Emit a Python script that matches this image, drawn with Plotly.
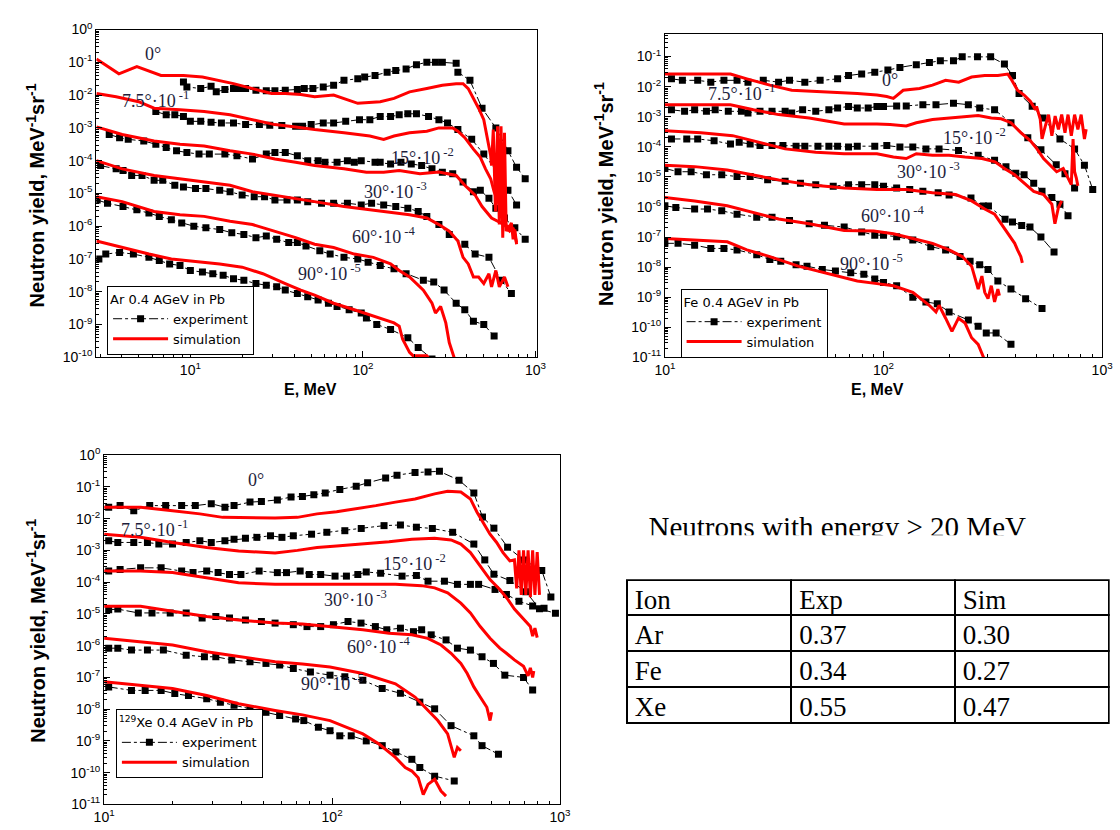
import plotly.graph_objects as go

# ---------------- DATA (pairs of log10(E/MeV), log10(yield)) ----------------
# Ar 0.4 AGeV in Pb
ar_exp0 = [(0.96,-1.60),(0.98,-1.75),(1.06,-1.80),(1.12,-1.73),(1.15,-1.90),(1.20,-1.83),(1.25,-1.80),(1.29,-1.80),(1.32,-1.80),(1.38,-1.85),(1.44,-1.87),(1.49,-1.87),(1.55,-1.85),(1.62,-1.83),(1.66,-1.80),(1.71,-1.80),(1.77,-1.75),(1.83,-1.70),(1.89,-1.55),(1.97,-1.50),(2.01,-1.45),(2.07,-1.40),(2.14,-1.30),(2.19,-1.25),(2.25,-1.20),(2.31,-1.07),(2.37,-1.00),(2.42,-1.00),(2.46,-1.00),(2.54,-1.03),(2.55,-1.30),(2.62,-1.55),(2.69,-2.40),(2.77,-3.00),(2.84,-3.70),(2.89,-4.20),(2.94,-4.55)]
ar_exp7 = [(0.80,-2.50),(0.86,-2.60),(0.91,-2.60),(0.96,-2.65),(1.00,-2.80),(1.06,-2.80),(1.12,-2.83),(1.18,-2.85),(1.25,-2.85),(1.32,-2.90),(1.40,-2.90),(1.46,-2.92),(1.53,-2.93),(1.61,-2.95),(1.65,-2.95),(1.70,-2.90),(1.77,-2.85),(1.83,-2.85),(1.90,-2.80),(1.98,-2.75),(2.04,-2.75),(2.10,-2.65),(2.16,-2.65),(2.21,-2.60),(2.26,-2.57),(2.31,-2.57),(2.38,-2.65),(2.44,-2.75),(2.49,-2.85),(2.55,-3.05),(2.63,-3.35),(2.70,-3.80),(2.78,-4.35),(2.84,-4.90),(2.89,-5.35)]
ar_exp15 = [(0.53,-3.20),(0.59,-3.30),(0.64,-3.35),(0.73,-3.40),(0.80,-3.50),(0.86,-3.60),(0.92,-3.70),(0.98,-3.75),(1.05,-3.80),(1.11,-3.80),(1.20,-3.80),(1.27,-3.85),(1.36,-3.95),(1.44,-3.80),(1.49,-3.75),(1.55,-3.75),(1.62,-3.85),(1.68,-4.00),(1.74,-4.00),(1.78,-4.05),(1.85,-4.05),(1.91,-4.00),(1.95,-4.05),(1.99,-4.00),(2.07,-4.05),(2.10,-4.05),(2.16,-4.10),(2.22,-4.05),(2.28,-4.10),(2.34,-4.15),(2.40,-4.25),(2.46,-4.35),(2.52,-4.40),(2.58,-4.65),(2.64,-4.95),(2.68,-4.90),(2.73,-5.15),(2.77,-5.45),(2.82,-5.75),(2.88,-6.05),(2.94,-6.40)]
ar_exp30 = [(0.48,-4.15),(0.57,-4.25),(0.61,-4.30),(0.66,-4.45),(0.72,-4.45),(0.79,-4.60),(0.84,-4.60),(0.91,-4.75),(0.96,-4.80),(1.03,-4.85),(1.09,-4.85),(1.17,-4.90),(1.23,-4.95),(1.30,-5.05),(1.37,-5.10),(1.43,-5.10),(1.49,-5.20),(1.56,-5.20),(1.62,-5.20),(1.68,-5.25),(1.76,-5.30),(1.83,-5.30),(1.91,-5.30),(1.99,-5.35),(2.05,-5.30),(2.12,-5.35),(2.19,-5.40),(2.26,-5.45),(2.32,-5.55),(2.37,-5.70),(2.44,-5.95),(2.50,-6.25),(2.59,-6.55),(2.65,-6.85),(2.73,-6.95),(2.80,-7.65),(2.86,-8.05)]
ar_exp60 = [(0.46,-5.20),(0.52,-5.30),(0.61,-5.40),(0.69,-5.50),(0.76,-5.60),(0.82,-5.70),(0.89,-5.80),(0.95,-5.90),(1.02,-6.00),(1.09,-6.05),(1.17,-6.10),(1.24,-6.20),(1.31,-6.25),(1.38,-6.35),(1.44,-6.30),(1.50,-6.40),(1.57,-6.50),(1.62,-6.50),(1.67,-6.60),(1.75,-6.75),(1.81,-6.85),(1.89,-6.95),(1.97,-7.00),(2.03,-7.10),(2.10,-7.20),(2.18,-7.30),(2.25,-7.45),(2.35,-7.65),(2.41,-7.70),(2.47,-7.95),(2.54,-8.35),(2.59,-8.55),(2.64,-8.90),(2.70,-9.00),(2.76,-9.35)]
ar_exp90 = [(0.47,-7.00),(0.51,-6.85),(0.59,-6.80),(0.67,-6.85),(0.76,-6.95),(0.82,-7.05),(0.88,-7.15),(0.94,-7.20),(1.00,-7.35),(1.07,-7.40),(1.13,-7.45),(1.19,-7.50),(1.25,-7.60),(1.31,-7.65),(1.38,-7.75),(1.44,-7.80),(1.50,-7.85),(1.55,-7.95),(1.62,-8.05),(1.68,-8.15),(1.74,-8.25),(1.80,-8.35),(1.85,-8.45),(1.92,-8.55),(1.99,-8.65),(2.02,-8.80),(2.08,-9.00),(2.16,-9.15),(2.26,-9.40),(2.32,-9.70),(2.40,-10.05)]

ar_sim0 = [(0.456,-0.90),(0.586,-1.35),(0.69,-1.13),(0.83,-1.40),(0.96,-1.40),(1.07,-1.45),(1.25,-1.65),(1.36,-1.80),(1.47,-1.95),(1.55,-1.95),(1.64,-1.98),(1.72,-2.05),(1.83,-2.00),(1.97,-2.25),(2.10,-2.20),(2.18,-2.10),(2.27,-1.90),(2.37,-1.80),(2.46,-1.70),(2.54,-1.65),(2.58,-1.65),(2.61,-1.80),(2.64,-2.10),(2.67,-2.40),(2.70,-2.75),(2.72,-3.25),(2.74,-3.85),(2.745,-4.15),(2.755,-3.05),(2.768,-5.55),(2.78,-2.95),(2.79,-5.95),(2.80,-2.95),(2.81,-6.35),(2.82,-3.15),(2.83,-6.15),(2.84,-5.95)]
ar_sim7 = [(0.456,-1.95),(0.57,-2.05),(0.70,-2.20),(0.79,-2.40),(0.94,-2.45),(1.08,-2.50),(1.23,-2.60),(1.36,-2.75),(1.49,-2.90),(1.61,-2.97),(1.72,-3.05),(1.89,-3.15),(2.04,-3.25),(2.12,-3.35),(2.18,-3.25),(2.27,-3.15),(2.37,-3.10),(2.44,-3.00),(2.52,-3.00),(2.55,-3.10),(2.59,-3.30),(2.64,-3.65),(2.68,-3.90),(2.71,-4.25),(2.74,-4.55),(2.76,-4.95),(2.79,-5.35),(2.82,-5.85),(2.84,-6.15),(2.86,-5.90),(2.87,-6.40),(2.88,-6.10),(2.89,-6.55)]
ar_sim15 = [(0.456,-2.97),(0.605,-3.20),(0.79,-3.40),(0.94,-3.50),(1.08,-3.55),(1.23,-3.70),(1.36,-3.80),(1.49,-3.95),(1.61,-4.05),(1.72,-4.15),(1.89,-4.25),(2.02,-4.35),(2.12,-4.35),(2.21,-4.30),(2.33,-4.40),(2.44,-4.35),(2.54,-4.45),(2.59,-4.75),(2.65,-5.05),(2.69,-5.40),(2.745,-5.75),(2.78,-5.85),(2.82,-5.95),(2.85,-6.15),(2.87,-6.05),(2.89,-6.50)]
ar_sim30 = [(0.456,-4.00),(0.605,-4.25),(0.79,-4.45),(0.94,-4.55),(1.08,-4.65),(1.23,-4.75),(1.36,-4.95),(1.49,-5.05),(1.61,-5.15),(1.72,-5.25),(1.89,-5.40),(2.04,-5.50),(2.18,-5.60),(2.27,-5.65),(2.37,-5.75),(2.44,-5.95),(2.50,-6.15),(2.55,-6.45),(2.58,-6.95),(2.61,-7.15),(2.64,-7.55),(2.67,-7.55),(2.70,-7.75),(2.73,-7.45),(2.745,-7.85),(2.77,-7.35),(2.79,-7.85),(2.82,-7.55),(2.84,-7.85)]
ar_sim60 = [(0.456,-5.10),(0.605,-5.25),(0.79,-5.55),(0.94,-5.65),(1.08,-5.70),(1.23,-5.85),(1.36,-5.95),(1.49,-6.15),(1.61,-6.35),(1.72,-6.55),(1.83,-6.65),(1.95,-6.85),(2.06,-6.95),(2.16,-7.15),(2.21,-7.35),(2.27,-7.55),(2.35,-7.95),(2.40,-8.35),(2.42,-8.65),(2.45,-8.45),(2.48,-8.95),(2.50,-9.55),(2.54,-10.20)]
ar_sim90 = [(0.456,-6.45),(0.605,-6.65),(0.76,-6.85),(0.89,-7.00),(0.98,-7.05),(1.17,-7.15),(1.30,-7.25),(1.42,-7.45),(1.55,-7.75),(1.64,-7.95),(1.72,-8.10),(1.83,-8.35),(1.95,-8.55),(2.06,-8.75),(2.18,-8.95),(2.21,-9.05),(2.23,-9.45),(2.27,-9.85),(2.29,-9.95),(2.37,-9.95),(2.39,-10.10)]

# Fe 0.4 AGeV in Pb
fe_exp0 = [(1.03,-1.74),(1.08,-1.79),(1.15,-1.79),(1.21,-1.85),(1.27,-1.79),(1.33,-1.79),(1.38,-1.85),(1.45,-1.79),(1.52,-1.85),(1.57,-1.79),(1.64,-1.85),(1.71,-1.79),(1.79,-1.74),(1.84,-1.63),(1.90,-1.58),(1.96,-1.52),(2.02,-1.45),(2.075,-1.36),(2.15,-1.27),(2.21,-1.20),(2.26,-1.14),(2.32,-1.14),(2.36,-1.01),(2.43,-1.01),(2.49,-1.01),(2.553,-1.25),(2.59,-1.63),(2.62,-2.23),(2.68,-2.65),(2.73,-3.04),(2.807,-3.74),(2.874,-4.07),(2.919,-4.61),(2.957,-5.42)]
fe_exp7 = [(1.03,-2.77),(1.09,-2.82),(1.136,-2.77),(1.19,-2.82),(1.23,-2.77),(1.29,-2.82),(1.35,-2.82),(1.38,-2.88),(1.435,-2.82),(1.49,-2.82),(1.55,-2.82),(1.58,-2.88),(1.63,-2.77),(1.69,-2.82),(1.75,-2.77),(1.79,-2.71),(1.84,-2.66),(1.88,-2.71),(1.93,-2.71),(1.97,-2.66),(2.00,-2.66),(2.06,-2.64),(2.104,-2.64),(2.18,-2.60),(2.24,-2.60),(2.32,-2.55),(2.388,-2.60),(2.44,-2.71),(2.508,-2.77),(2.583,-3.20),(2.66,-3.70),(2.72,-4.10),(2.79,-4.60),(2.83,-4.90),(2.874,-5.37)]
fe_exp15 = [(1.03,-3.74),(1.10,-3.74),(1.15,-3.74),(1.225,-3.80),(1.30,-3.91),(1.34,-3.85),(1.39,-3.91),(1.435,-3.96),(1.49,-3.96),(1.54,-3.96),(1.60,-3.98),(1.64,-3.98),(1.70,-3.98),(1.75,-3.98),(1.79,-3.98),(1.84,-4.01),(1.88,-3.98),(1.96,-3.98),(2.015,-3.96),(2.075,-4.01),(2.134,-4.01),(2.194,-4.07),(2.254,-4.07),(2.343,-4.12),(2.433,-4.28),(2.508,-4.45),(2.56,-4.66),(2.605,-4.88),(2.643,-4.93),(2.687,-5.21),(2.725,-5.48),(2.77,-5.69),(2.807,-5.91),(2.844,-6.29)]
fe_exp30 = [(1.00,-4.72),(1.06,-4.83),(1.12,-4.83),(1.19,-4.93),(1.26,-4.93),(1.33,-4.99),(1.39,-4.99),(1.47,-5.10),(1.55,-5.15),(1.62,-5.21),(1.69,-5.26),(1.77,-5.31),(1.84,-5.26),(1.90,-5.26),(1.96,-5.26),(2.00,-5.31),(2.06,-5.37),(2.12,-5.42),(2.18,-5.48),(2.25,-5.53),(2.30,-5.60),(2.40,-5.70),(2.457,-5.97),(2.48,-5.97),(2.556,-6.41),(2.59,-6.50),(2.632,-6.62),(2.67,-6.67),(2.72,-7.00),(2.78,-7.50)]
fe_exp60 = [(1.00,-5.96),(1.05,-6.02),(1.136,-6.07),(1.195,-6.07),(1.26,-6.13),(1.33,-6.24),(1.42,-6.34),(1.49,-6.34),(1.57,-6.45),(1.66,-6.56),(1.73,-6.61),(1.82,-6.67),(1.90,-6.83),(1.96,-6.94),(2.00,-6.94),(2.06,-6.99),(2.134,-7.10),(2.216,-7.32),(2.284,-7.43),(2.35,-7.65),(2.396,-7.81),(2.44,-7.92),(2.478,-8.08),(2.523,-8.46),(2.583,-8.73),(2.65,-9.05),(2.725,-9.38)]
fe_exp90 = [(1.00,-7.21),(1.06,-7.21),(1.136,-7.27),(1.21,-7.38),(1.27,-7.38),(1.33,-7.43),(1.42,-7.59),(1.48,-7.75),(1.53,-7.81),(1.60,-7.92),(1.65,-7.97),(1.72,-8.08),(1.78,-8.13),(1.85,-8.19),(1.91,-8.24),(1.96,-8.40),(2.00,-8.51),(2.06,-8.62),(2.134,-9.00),(2.194,-9.16),(2.246,-9.22),(2.30,-9.49),(2.388,-9.76),(2.433,-9.97),(2.47,-10.19),(2.515,-10.19),(2.583,-10.57)]

fe_sim0 = [(1.00,-1.58),(1.30,-1.58),(1.375,-1.74),(1.48,-1.95),(1.58,-2.12),(1.73,-2.17),(1.88,-2.23),(1.97,-2.28),(2.015,-2.33),(2.045,-2.39),(2.09,-2.12),(2.165,-2.06),(2.224,-1.95),(2.284,-1.79),(2.344,-1.85),(2.403,-1.68),(2.463,-1.63),(2.523,-1.63),(2.568,-1.58),(2.583,-1.74),(2.613,-2.12),(2.643,-2.28),(2.672,-2.49),(2.695,-2.77),(2.70,-2.66),(2.717,-3.09),(2.725,-3.74),(2.74,-3.31),(2.755,-2.93),(2.77,-3.63),(2.785,-2.98),(2.80,-3.42),(2.815,-2.93),(2.83,-3.53),(2.844,-2.93),(2.859,-3.63),(2.874,-2.93),(2.889,-3.42),(2.904,-2.93),(2.919,-3.74),(2.927,-3.42)]
fe_sim7 = [(1.00,-2.60),(1.30,-2.60),(1.405,-2.77),(1.52,-2.93),(1.66,-3.04),(1.82,-3.24),(1.97,-3.24),(2.03,-3.26),(2.104,-3.31),(2.15,-3.20),(2.224,-3.09),(2.30,-3.04),(2.373,-3.00),(2.433,-2.96),(2.493,-3.04),(2.538,-3.07),(2.583,-3.20),(2.628,-3.53),(2.672,-3.80),(2.702,-4.07),(2.732,-4.39),(2.762,-4.61),(2.792,-4.83),(2.822,-4.72),(2.844,-5.04),(2.859,-5.26),(2.867,-3.74),(2.874,-4.83),(2.882,-5.04),(2.889,-5.30)]
fe_sim15 = [(1.00,-3.47),(1.165,-3.53),(1.31,-3.63),(1.435,-3.85),(1.55,-4.07),(1.69,-4.18),(1.82,-4.23),(1.97,-4.23),(2.045,-4.34),(2.104,-4.39),(2.15,-4.23),(2.224,-4.28),(2.30,-4.28),(2.373,-4.34),(2.45,-4.39),(2.51,-4.50),(2.553,-4.72),(2.60,-4.93),(2.643,-5.21),(2.687,-5.48),(2.732,-5.59),(2.77,-5.91),(2.784,-6.56),(2.80,-6.02),(2.815,-5.80)]
fe_sim30 = [(1.00,-4.61),(1.136,-4.66),(1.285,-4.77),(1.405,-4.93),(1.52,-5.10),(1.66,-5.26),(1.82,-5.37),(1.97,-5.42),(2.104,-5.42),(2.224,-5.53),(2.33,-5.59),(2.403,-5.80),(2.463,-6.07),(2.508,-6.24),(2.538,-6.56),(2.568,-6.89),(2.60,-7.21),(2.613,-7.43),(2.628,-7.65),(2.635,-7.86)]
fe_sim60 = [(1.00,-5.69),(1.136,-5.80),(1.285,-5.96),(1.405,-6.18),(1.52,-6.40),(1.66,-6.56),(1.82,-6.78),(1.955,-6.80),(2.045,-6.89),(2.134,-7.05),(2.224,-7.21),(2.30,-7.43),(2.36,-7.65),(2.403,-7.97),(2.418,-8.40),(2.433,-8.73),(2.45,-8.30),(2.463,-8.84),(2.478,-9.05),(2.493,-8.62),(2.508,-9.16),(2.523,-8.73),(2.53,-8.95)]
fe_sim90 = [(1.00,-7.05),(1.285,-7.16),(1.375,-7.43),(1.48,-7.65),(1.61,-7.97),(1.73,-8.19),(1.88,-8.46),(1.97,-8.55),(2.045,-8.62),(2.134,-8.84),(2.209,-9.27),(2.24,-9.49),(2.254,-9.27),(2.284,-9.70),(2.313,-10.14),(2.343,-9.70),(2.373,-9.86),(2.403,-10.35),(2.433,-10.57),(2.463,-11.10)]

# 129Xe 0.4 AGeV in Pb
xe_exp0 = [(1.02,-1.64),(1.07,-1.59),(1.13,-1.75),(1.20,-1.59),(1.27,-1.59),(1.34,-1.59),(1.40,-1.59),(1.47,-1.53),(1.53,-1.64),(1.57,-1.59),(1.64,-1.48),(1.69,-1.46),(1.76,-1.41),(1.82,-1.32),(1.87,-1.30),(1.92,-1.25),(1.97,-1.19),(2.034,-1.08),(2.106,-0.98),(2.156,-0.87),(2.235,-0.72),(2.285,-0.63),(2.364,-0.55),(2.421,-0.53),(2.471,-0.51),(2.557,-0.79),(2.622,-1.19),(2.66,-1.95),(2.71,-2.30),(2.77,-2.90),(2.84,-3.30),(2.92,-3.63),(2.96,-4.47)]
xe_exp7 = [(1.02,-2.70),(1.06,-2.75),(1.13,-2.75),(1.19,-2.75),(1.24,-2.80),(1.30,-2.80),(1.36,-2.75),(1.42,-2.70),(1.47,-2.75),(1.53,-2.70),(1.57,-2.65),(1.62,-2.62),(1.67,-2.59),(1.73,-2.54),(1.78,-2.59),(1.83,-2.54),(1.91,-2.49),(1.977,-2.43),(2.056,-2.38),(2.128,-2.31),(2.228,-2.22),(2.30,-2.20),(2.37,-2.27),(2.44,-2.31),(2.529,-2.43),(2.622,-2.80),(2.67,-3.30),(2.71,-3.75),(2.78,-3.95),(2.85,-4.30),(2.91,-4.84),(2.98,-4.98)]
xe_exp15 = [(1.02,-3.65),(1.07,-3.60),(1.16,-3.55),(1.25,-3.55),(1.34,-3.65),(1.39,-3.70),(1.45,-3.65),(1.50,-3.70),(1.55,-3.76),(1.60,-3.76),(1.68,-3.65),(1.76,-3.70),(1.80,-3.70),(1.86,-3.65),(1.90,-3.76),(1.95,-3.76),(2.013,-3.81),(2.063,-3.81),(2.113,-3.76),(2.15,-3.68),(2.213,-3.72),(2.307,-3.81),(2.37,-3.79),(2.421,-3.97),(2.493,-3.97),(2.55,-4.07),(2.607,-4.07),(2.643,-4.07),(2.715,-4.23),(2.765,-4.39),(2.82,-4.60),(2.88,-4.75),(2.93,-4.82)]
xe_exp30 = [(1.02,-4.87),(1.06,-4.85),(1.15,-4.97),(1.21,-4.97),(1.29,-4.97),(1.36,-4.97),(1.43,-5.13),(1.49,-5.08),(1.55,-5.13),(1.62,-5.19),(1.69,-5.24),(1.75,-5.29),(1.83,-5.34),(1.89,-5.40),(1.95,-5.40),(2.006,-5.34),(2.07,-5.24),(2.127,-5.29),(2.19,-5.40),(2.24,-5.50),(2.30,-5.45),(2.357,-5.56),(2.393,-5.50),(2.435,-5.66),(2.50,-5.82),(2.55,-6.08),(2.607,-6.14),(2.658,-6.35),(2.708,-6.56),(2.758,-6.93),(2.84,-7.00),(2.88,-7.40)]
xe_exp60 = [(1.02,-6.08),(1.06,-6.08),(1.12,-6.14),(1.19,-6.14),(1.26,-6.14),(1.36,-6.30),(1.44,-6.35),(1.49,-6.35),(1.56,-6.45),(1.64,-6.51),(1.71,-6.56),(1.77,-6.61),(1.83,-6.72),(1.905,-6.83),(1.991,-6.93),(2.056,-6.98),(2.135,-7.09),(2.22,-7.35),(2.30,-7.50),(2.385,-7.78),(2.45,-7.99),(2.522,-8.52),(2.622,-8.84),(2.658,-9.15),(2.73,-9.42)]
xe_exp90 = [(1.02,-7.30),(1.12,-7.41),(1.18,-7.41),(1.25,-7.41),(1.31,-7.51),(1.37,-7.57),(1.45,-7.67),(1.51,-7.78),(1.57,-7.88),(1.64,-7.99),(1.71,-8.10),(1.77,-8.20),(1.84,-8.31),(1.876,-8.36),(1.94,-8.57),(1.991,-8.68),(2.034,-8.84),(2.084,-8.84),(2.15,-9.00),(2.22,-9.15),(2.28,-9.35),(2.35,-9.58),(2.385,-9.84),(2.45,-10.11),(2.536,-10.26)]

xe_sim0 = [(1.00,-1.64),(1.16,-1.64),(1.30,-1.75),(1.42,-1.85),(1.52,-1.96),(1.63,-1.98),(1.75,-1.98),(1.848,-1.96),(1.934,-1.85),(2.02,-1.78),(2.106,-1.69),(2.192,-1.59),(2.278,-1.48),(2.364,-1.38),(2.45,-1.22),(2.507,-1.14),(2.565,-1.16),(2.607,-1.38),(2.636,-1.80),(2.665,-2.17),(2.693,-2.49),(2.722,-2.75),(2.75,-3.07),(2.78,-3.33),(2.80,-3.30),(2.81,-4.20),(2.82,-3.00),(2.83,-4.40),(2.84,-3.00),(2.85,-4.40),(2.86,-3.00),(2.87,-4.47),(2.88,-3.00),(2.89,-4.40),(2.90,-3.05),(2.91,-4.40)]
xe_sim7 = [(1.00,-2.49),(1.16,-2.59),(1.30,-2.75),(1.45,-2.91),(1.59,-3.02),(1.75,-3.08),(1.848,-3.00),(1.934,-2.91),(2.02,-2.86),(2.135,-2.80),(2.25,-2.73),(2.35,-2.65),(2.45,-2.62),(2.522,-2.67),(2.565,-2.80),(2.607,-3.07),(2.65,-3.49),(2.693,-3.92),(2.736,-4.23),(2.772,-4.55),(2.80,-4.85),(2.84,-5.15),(2.87,-5.40),(2.88,-5.70),(2.89,-5.45),(2.90,-5.75)]
xe_sim15 = [(1.00,-3.65),(1.16,-3.65),(1.30,-3.70),(1.45,-3.86),(1.59,-4.02),(1.75,-4.07),(1.991,-4.07),(2.135,-4.07),(2.278,-4.07),(2.393,-4.11),(2.45,-4.18),(2.507,-4.34),(2.565,-4.66),(2.607,-4.97),(2.65,-5.40),(2.693,-5.77),(2.736,-6.08),(2.765,-6.24),(2.80,-6.45),(2.84,-6.65),(2.86,-6.95),(2.87,-6.70),(2.88,-7.00),(2.885,-6.80)]
xe_sim30 = [(1.00,-4.76),(1.16,-4.76),(1.30,-4.92),(1.45,-5.08),(1.59,-5.19),(1.75,-5.29),(1.87,-5.32),(1.991,-5.40),(2.135,-5.50),(2.25,-5.61),(2.35,-5.66),(2.42,-5.77),(2.478,-5.98),(2.522,-6.24),(2.565,-6.56),(2.593,-6.88),(2.622,-7.30),(2.65,-7.62),(2.679,-7.94),(2.693,-8.36),(2.70,-8.10)]
xe_sim60 = [(1.00,-5.77),(1.16,-5.87),(1.30,-5.98),(1.45,-6.19),(1.59,-6.35),(1.75,-6.51),(1.87,-6.58),(1.991,-6.67),(2.135,-6.88),(2.278,-7.20),(2.364,-7.62),(2.421,-8.04),(2.464,-8.36),(2.507,-8.78),(2.522,-9.21),(2.536,-9.52),(2.55,-9.21),(2.565,-9.31)]
xe_sim90 = [(1.00,-7.14),(1.16,-7.25),(1.30,-7.35),(1.45,-7.57),(1.59,-7.83),(1.75,-8.04),(1.87,-8.18),(1.991,-8.36),(2.135,-8.78),(2.206,-9.10),(2.278,-9.52),(2.321,-9.84),(2.35,-9.95),(2.378,-10.16),(2.40,-10.69),(2.421,-10.37),(2.45,-10.21),(2.478,-10.58),(2.50,-10.74)]

angle_labels = ["0°", "7.5°·10<sup> -1</sup>", "15°·10<sup> -2</sup>", "30°·10<sup> -3</sup>",
                "60°·10<sup> -4</sup>", "90°·10<sup> -5</sup>"]
legend_titles = ["Ar 0.4 AGeV in Pb", "Fe 0.4 AGeV in Pb", "<sup>129</sup>Xe 0.4 AGeV in Pb"]

table_ions = ["Ar", "Fe", "Xe"]
table_exp = [0.37, 0.34, 0.55]
table_sim = [0.30, 0.27, 0.47]
table_header = ["Ion", "Exp", "Sim"]
table_note = "Neutrons with energy > 20 MeV"

# ---------------- FIGURE ----------------
W, H = 1120, 830
def px(x):
    return x / W
def py(y):
    return 1 - y / H

def unzip(pairs):
    return [10 ** a for a, b in pairs], [10 ** b for a, b in pairs]

SANS = "Liberation Sans, Arial, sans-serif"
WIDE = "DejaVu Sans, Verdana, sans-serif"
SERIF = "Liberation Serif, Times New Roman, serif"

fig = go.Figure()

panels = [
    ("x", "y", "legend", [ar_exp0, ar_exp7, ar_exp15, ar_exp30, ar_exp60, ar_exp90],
     [ar_sim0, ar_sim7, ar_sim15, ar_sim30, ar_sim60, ar_sim90]),
    ("x2", "y2", "legend2", [fe_exp0, fe_exp7, fe_exp15, fe_exp30, fe_exp60, fe_exp90],
     [fe_sim0, fe_sim7, fe_sim15, fe_sim30, fe_sim60, fe_sim90]),
    ("x3", "y3", "legend3", [xe_exp0, xe_exp7, xe_exp15, xe_exp30, xe_exp60, xe_exp90],
     [xe_sim0, xe_sim7, xe_sim15, xe_sim30, xe_sim60, xe_sim90]),
]
for xa, ya, leg, exps, sims in panels:
    for i, e in enumerate(exps):
        ex, ey = unzip(e)
        fig.add_trace(go.Scatter(
            x=ex, y=ey, xaxis=xa, yaxis=ya, mode="lines+markers", name="experiment",
            line=dict(color="black", width=1, dash="dashdot"),
            marker=dict(symbol="square", size=7, color="black"),
            legend=leg, showlegend=(i == 0), legendrank=1))
    for i, s in enumerate(sims):
        sx, sy = unzip(s)
        fig.add_trace(go.Scatter(
            x=sx, y=sy, xaxis=xa, yaxis=ya, mode="lines", name="simulation",
            line=dict(color="#ff0000", width=3),
            legend=leg, showlegend=(i == 0), legendrank=2))

# clipped caption text
fig.add_trace(go.Scatter(
    x=[0.068], y=[0.09], xaxis="x4", yaxis="y4", mode="text", text=[table_note],
    textposition="middle right", textfont=dict(family=SERIF, size=29, color="black"),
    showlegend=False, cliponaxis=True, hoverinfo="skip"))

# table
fig.add_trace(go.Table(
    domain=dict(x=[px(628), 1.0], y=[py(800), py(583)]),
    columnwidth=[168, 167, 157],
    header=dict(values=table_header, height=35, align="left",
                line=dict(color="black", width=2), fill=dict(color="white"),
                font=dict(family=SERIF, size=27, color="black")),
    cells=dict(values=[table_ions, table_exp, table_sim], format=["", ".2f", ".2f"],
               height=36, align="left",
               line=dict(color="black", width=2), fill=dict(color="white"),
               font=dict(family=SERIF, size=27, color="black"))))

def ylabels(lo, hi):
    vals = [10.0 ** k for k in range(hi, lo - 1, -1)]
    txt = ["10<sup>%d</sup>" % k if k >= 0 else "10<sup>-%d</sup>" % (-k) for k in range(hi, lo - 1, -1)]
    return vals, txt

def axis(domain, rng, anchor, tv, tt):
    return dict(type="log", domain=domain, range=rng, anchor=anchor,
                showline=True, mirror=True, linecolor="black", linewidth=1,
                ticks="inside", ticklen=6, tickcolor="black", tickwidth=1,
                tickmode="array", tickvals=tv, ticktext=tt,
                minor=dict(ticks="inside", ticklen=3, tickcolor="black", dtick="D1", showgrid=False),
                showgrid=False, zeroline=False,
                tickfont=dict(family=SANS, size=14, color="black"))

xt_v, xt_t = [10, 100, 1000], ["10<sup>1</sup>", "10<sup>2</sup>", "10<sup>3</sup>"]

ar_dom_x, ar_dom_y = [px(87), px(537)], [py(355), py(20)]
fe_dom_x, fe_dom_y = [px(667), px(1113)], [py(355), py(25)]
xe_dom_x, xe_dom_y = [px(95), px(560)], [py(812), py(455)]

fig.update_layout(
    width=W, height=H, margin=dict(l=0, r=0, t=0, b=0),
    paper_bgcolor="white", plot_bgcolor="white",
    xaxis=axis(ar_dom_x, [0.455, 3.011], "y", xt_v, xt_t),
    yaxis=axis(ar_dom_y, [-10, 0], "x", *ylabels(-10, 0)),
    xaxis2=axis(fe_dom_x, [1, 3], "y2", xt_v, xt_t),
    yaxis2=axis(fe_dom_y, [-11, -0.265], "x2", *ylabels(-11, -1)),
    xaxis3=axis(xe_dom_x, [1, 3], "y3", xt_v, xt_t),
    yaxis3=axis(xe_dom_y, [-11, 0], "x3", *ylabels(-11, 0)),
    xaxis4=dict(domain=[0.55, 1.0], range=[0, 1], visible=False, anchor="y4", fixedrange=True),
    yaxis4=dict(domain=[py(537), py(470)], range=[0, 1], visible=False, anchor="x4", fixedrange=True),
)

leg_common = dict(xanchor="left", yanchor="top", bgcolor="white", bordercolor="black", borderwidth=1,
                  font=dict(family=WIDE, size=13, color="black"), tracegroupgap=0, itemwidth=55,
                  traceorder="normal")
fig.update_layout(
    legend=dict(x=px(98), y=py(282), title=dict(text=legend_titles[0], font=dict(family=WIDE, size=13)), **leg_common),
    legend2=dict(x=px(683), y=py(285), title=dict(text=legend_titles[1], font=dict(family=WIDE, size=13)), **leg_common),
    legend3=dict(x=px(107), y=py(715), title=dict(text=legend_titles[2], font=dict(family=WIDE, size=13)), **leg_common),
)

annotations = []
label_pos = {
    "ar": [(145, 45), (147, 91), (420, 150), (392, 185), (380, 231), (325, 268)],
    "fe": [(897, 72), (745, 84), (983, 129), (936, 164), (900, 209), (878, 258)],
    "xe": [(250, 480), (146, 530), (412, 565), (351, 602), (375, 650), (328, 687)],
}
for key in ["ar", "fe", "xe"]:
    for lab, (X, Y) in zip(angle_labels, label_pos[key]):
        annotations.append(dict(x=px(X), y=py(Y), xref="paper", yref="paper", text=lab, showarrow=False,
                                font=dict(family=SERIF, size=18, color="#1e1e3c"), xanchor="center", yanchor="middle"))

ytitle = "<b>Neutron yield, MeV<sup>-1</sup>sr<sup>-1</sup></b>"
for X, Y in [(25, 190), (605, 188), (25, 635)]:
    annotations.append(dict(x=px(X), y=py(Y), xref="paper", yref="paper", text=ytitle, textangle=-90,
                            showarrow=False, font=dict(family=SANS, size=20, color="black"),
                            xanchor="center", yanchor="middle"))
for X, Y in [(305, 388), (884, 388)]:
    annotations.append(dict(x=px(X), y=py(Y), xref="paper", yref="paper", text="<b>E, MeV</b>",
                            showarrow=False, font=dict(family=SANS, size=16, color="black"),
                            xanchor="center", yanchor="middle"))
fig.update_layout(annotations=annotations)

fig.write_html("out.html", config={"displayModeBar": False},
               post_script="document.body.style.margin='0';document.body.style.overflow='hidden';")
